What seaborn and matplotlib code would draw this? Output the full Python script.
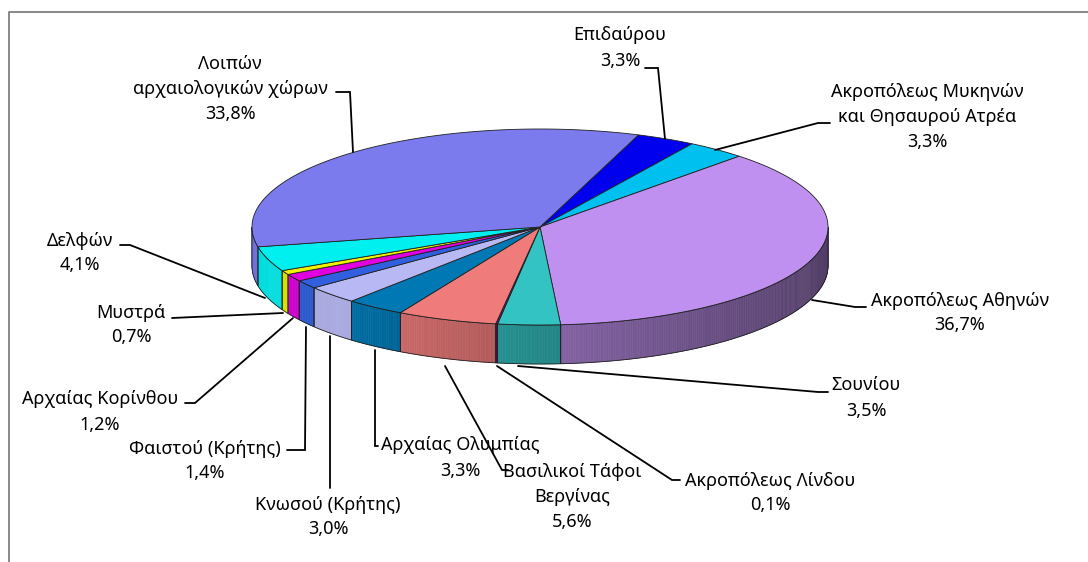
import matplotlib
matplotlib.use("Agg")
import matplotlib.pyplot as plt
from matplotlib.patches import Polygon
import numpy as np
import seaborn as sns

sns.set_theme(style="white")
plt.rcParams['font.family'] = ['Noto Sans', 'DejaVu Sans']

# data (clockwise from the top)
sites = ["Επιδαύρου",
         "Ακροπόλεως Μυκηνών\nκαι Θησαυρού Ατρέα",
         "Ακροπόλεως Αθηνών",
         "Σουνίου",
         "Ακροπόλεως Λίνδου",
         "Βασιλικοί Τάφοι\nΒεργίνας",
         "Αρχαίας Ολυμπίας",
         "Κνωσού (Κρήτης)",
         "Φαιστού (Κρήτης)",
         "Αρχαίας Κορίνθου",
         "Μυστρά",
         "Δελφών",
         "Λοιπών\nαρχαιολογικών χώρων"]
shares = [3.3, 3.3, 36.7, 3.5, 0.1, 5.6, 3.3, 3.0, 1.4, 1.2, 0.7, 4.1, 33.8]
colors = ["#0000EE", "#00C0F0", "#C090F0", "#33C3C3", "#800080", "#F07B7B",
          "#0078B4", "#B8B8F4", "#3060E0", "#E000E0", "#F0F000", "#00F0F0",
          "#7B7BEE"]

# label layout (pixel coords): text centre and leader line
label_xy = [(620, 48), (927, 117), (960, 313), (866, 398), (770, 493),
            (572, 497), (460, 458), (328, 517), (205, 461), (100, 412),
            (131, 325), (80, 253), (230, 89)]
leaders = [
    [(645, 68), (658, 68), (665, 139)],
    [(830, 123), (818, 123), (715, 150)],
    [(812, 300), (855, 307), (866, 307)],
    [(518, 366), (818, 392), (828, 392)],
    [(497, 366), (672, 480), (680, 480)],
    [(445, 366), (502, 470), (508, 470)],
    [(375, 350), (375, 446), (378, 446)],
    [(330, 336), (330, 488)],
    [(306, 327), (305, 450), (287, 450)],
    [(293, 318), (195, 403), (185, 403)],
    [(283, 313), (172, 318)],
    [(265, 298), (130, 245), (120, 245)],
    [(353, 152), (350, 92), (336, 92)],
]

cx, cy, rx, ry, depth = 540, 227, 288, 98, 39
start = 70.0

pal = sns.color_palette(colors)

fig = plt.figure(figsize=(10.88, 5.62), dpi=100)
ax = fig.add_axes([0, 0, 1, 1])
ax.set_xlim(0, 1088)
ax.set_ylim(562, 0)
ax.axis('off')


def pt(t, dz=0):
    r = np.radians(t)
    return cx + rx * np.cos(r), cy - ry * np.sin(r) + dz


def shade(t):
    if t <= -135:
        return 0.92
    g = min(max(-t / 135.0, 0), 1) ** 1.5
    return 0.42 + 0.51 * g


angles = start - np.cumsum([0] + shares) * 3.6

# side walls
for i, col in enumerate(pal):
    a1, a2 = angles[i], angles[i + 1]
    hi, lo = min(a1, 0), max(a2, -180)
    if hi <= lo:
        continue
    ts = np.linspace(hi, lo, max(int((hi - lo) * 2), 2))
    for k in range(len(ts) - 1):
        m = 0.5 * (ts[k] + ts[k + 1])
        c = np.array(col) * shade(m)
        quad = [pt(ts[k]), pt(ts[k + 1]), pt(ts[k + 1], depth), pt(ts[k], depth)]
        ax.add_patch(Polygon(quad, closed=True, fc=c, ec=c, lw=0.4, zorder=2))
    outline = [pt(t) for t in ts] + [pt(t, depth) for t in ts[::-1]]
    ax.add_patch(Polygon(outline, closed=True, fill=False, ec="#202020",
                         lw=0.6, zorder=3))

# top faces
for i, col in enumerate(pal):
    a1, a2 = angles[i], angles[i + 1]
    ts = np.linspace(a1, a2, max(int(abs(a1 - a2) * 2), 2))
    poly = [(cx, cy)] + [pt(t) for t in ts]
    ax.add_patch(Polygon(poly, closed=True, fc=col, ec="#202020", lw=0.6,
                         zorder=4))

# labels
for name, v, (tx, ty), path in zip(sites, shares, label_xy, leaders):
    txt = name + "\n" + f"{v:.1f}".replace('.', ',') + "%"
    ax.text(tx, ty, txt, ha='center', va='center', multialignment='center',
            fontsize=13, linespacing=1.5, color='black', zorder=6)
    xs, ys = zip(*path)
    ax.plot(xs, ys, color='black', lw=1.3, zorder=5, solid_joinstyle='miter')

# chart frame
ax.plot([9, 9, 1088], [562, 12, 12], color='#7f7f7f', lw=1.3, zorder=1)

fig.savefig("out.png", dpi=100)
